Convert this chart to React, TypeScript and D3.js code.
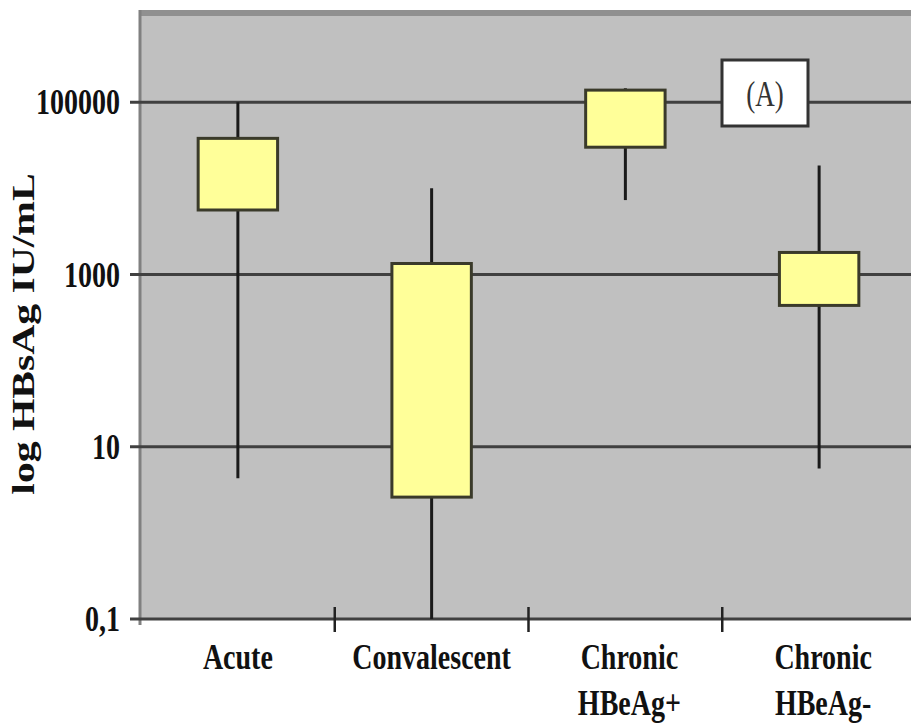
import React from 'react';
import * as d3 from 'd3';

// data (IU/mL)
const categories = ['Acute', 'Convalescent', 'Chronic HBeAg+', 'Chronic HBeAg-'];
const labelLines = [['Acute'], ['Convalescent'], ['Chronic', 'HBeAg+'], ['Chronic', 'HBeAg-']];
const whiskerHigh = [100000, 10000, 145000, 18400];
const boxHigh = [38000, 1340, 138000, 1800];
const boxLow = [5600, 2.6, 30000, 437];
const whiskerLow = [4.3, 0.1, 7300, 5.6];
const yTicks = [0.1, 10, 1000, 100000];
const yTickLabels = ['0,1', '10', '1000', '100000'];
const yTitle = 'log HBsAg IU/mL';
const panelLabel = '(A)';

const W = 911;
const H = 723;
const margins = { left: 141, top: 10, bottom: 619, right: 916 };
const serif = '"Liberation Serif", "DejaVu Serif", serif';
const stretch = 1.3;

export default function App() {
  const xScale = d3.scaleBand<string>()
    .domain(categories)
    .range([margins.left, margins.right])
    .paddingInner(0)
    .paddingOuter(0);

  const yScale = d3.scaleLog()
    .domain([0.1, Math.pow(10, 6.07)])
    .range([margins.bottom, margins.top]);

  const bw = xScale.bandwidth();
  const boxW = bw * 0.41;
  const cx = (c: string) => (xScale(c) as number) + bw / 2;
  const tickXs = categories.slice(1).map(c => xScale(c) as number);

  return (
    <svg width={W} height={H} style={{ position: 'absolute', left: 0, top: 0 }}>
      <rect x={margins.left} y={margins.top} width={W - margins.left} height={margins.bottom - margins.top} fill="#c0c0c0" />
      <rect x={margins.left} y={margins.top} width={W - margins.left} height={6} fill="#909090" />
      <line x1={margins.left - 1} x2={margins.left - 1} y1={margins.top} y2={margins.bottom + 6} stroke="#808080" strokeWidth={3} />

      {yTicks.map((t, i) => (
        <g key={t}>
          <line x1={130} x2={W} y1={yScale(t)} y2={yScale(t)} stroke="#404040" strokeWidth={3} />
          <text
            transform={`translate(120,${yScale(t)}) scale(1,${stretch})`}
            textAnchor="end" dominantBaseline="central"
            fontFamily={serif} fontWeight="bold" fontSize={28} fill="#111">
            {yTickLabels[i]}
          </text>
        </g>
      ))}

      {tickXs.map(x => (
        <line key={x} x1={x} x2={x} y1={607} y2={632} stroke="#222" strokeWidth={2.5} />
      ))}

      {categories.map((c, i) => (
        <g key={c}>
          <line x1={cx(c)} x2={cx(c)} y1={yScale(whiskerHigh[i])} y2={yScale(whiskerLow[i])} stroke="#1a1a1a" strokeWidth={3} />
          <rect
            x={cx(c) - boxW / 2} y={yScale(boxHigh[i])}
            width={boxW} height={yScale(boxLow[i]) - yScale(boxHigh[i])}
            fill="#ffff99" stroke="#3a3a2a" strokeWidth={3} />
        </g>
      ))}

      <rect x={722} y={60} width={86} height={66} fill="#ffffff" stroke="#333" strokeWidth={3} />
      <text
        transform={`translate(765,94) scale(1,${stretch})`}
        textAnchor="middle" dominantBaseline="central"
        fontFamily={serif} fontSize={27} fill="#333">
        {panelLabel}
      </text>

      {categories.map((c, i) => (
        labelLines[i].map((ln, j) => (
          <text key={c + j}
            transform={`translate(${cx(c) + (i > 1 ? 4 : 0)},${669 + j * 46}) scale(1,${stretch})`}
            textAnchor="middle"
            fontFamily={serif} fontWeight="bold" fontSize={28} fill="#111">
            {ln}
          </text>
        ))
      ))}

      <text
        transform={`translate(34,334) rotate(-90) scale(${stretch},1)`}
        textAnchor="middle"
        fontFamily={serif} fontWeight="bold" fontSize={32} fill="#111">
        {yTitle}
      </text>
    </svg>
  );
}
